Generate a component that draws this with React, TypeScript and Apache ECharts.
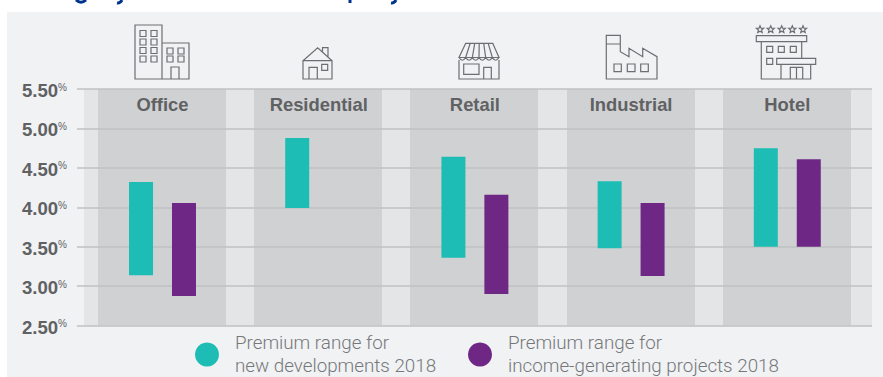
import React, { useEffect, useRef } from "react";
import * as echarts from "echarts";

const categories = ["Office", "Residential", "Retail", "Industrial", "Hotel"];
const newDevLow = [3.14, 3.99, 3.36, 3.48, 3.5];
const newDevHigh = [4.32, 4.88, 4.64, 4.33, 4.75];
const incomeLow: (number | null)[] = [2.875, null, 2.9, 3.13, 3.5];
const incomeHigh: (number | null)[] = [4.055, null, 4.16, 4.055, 4.61];
const newDevName = "Premium range for\nnew developments 2018";
const incomeName = "Premium range for\nincome-generating projects 2018";

const TEAL = "#1dbdb5";
const PURPLE = "#6e2785";
const BAND = "#d0d1d3";
const LIGHT = "#e4e5e7";
const LINE = "#c0c1c3";
const LABEL = "#606163";
const LEGEND_TEXT = "#75777a";
const ICON = "#6d6e71";

const rect = (x0: number, y0: number, x1: number, y1: number) =>
  `M${x0} ${y0}L${x1} ${y0}L${x1} ${y1}L${x0} ${y1}Z`;

const star = (cx: number, cy: number, r: number) => {
  let d = "";
  for (let i = 0; i < 10; i++) {
    const rad = i % 2 === 0 ? r : r * 0.45;
    const a = -Math.PI / 2 + (i * Math.PI) / 5;
    d += `${i === 0 ? "M" : "L"}${(cx + rad * Math.cos(a)).toFixed(2)} ${(cy + rad * Math.sin(a)).toFixed(2)}`;
  }
  return d + "Z";
};

const grid2 = (xs: number[], ys: number[], w: number, h: number) =>
  ys.map((y) => xs.map((x) => rect(x, y, x + w, y + h)).join("")).join("");

const officeIcon =
  rect(135, 25, 162, 79) +
  rect(162, 43, 189, 79) +
  grid2([140, 151], [30.5, 39, 47.5, 56], 6, 6) +
  grid2([167, 178], [48, 56], 6, 6) +
  rect(171, 67, 179, 79);

const houseIcon =
  rect(303, 60.7, 332, 79) +
  "M303 60.7L317.7 47.7L332 60.7" +
  "M322.5 52L322.5 47.7L328 47.7L328 56.7" +
  rect(309, 67.3, 317.3, 79) +
  rect(321.7, 64.3, 327.7, 70.3);

const scallops = [459, 465.7, 472.3, 479, 485.7, 492.3]
  .map((x) => `M${x} 57.5Q${x + 3.3} 63 ${x + 6.7} 57.5`)
  .join("");
const ribs = [0, 1, 2, 3, 4, 5, 6]
  .map((i) => `M${465.7 + i * 4.5} 43.3L${459 + i * 6.67} 57.5`)
  .join("");
const retailIcon =
  "M459 60L459 79L499 79L499 60" +
  "M465.7 43.3L492.7 43.3L499 57.5L459 57.5Z" +
  ribs +
  scallops +
  rect(463.7, 64, 479, 74.3) +
  rect(483.7, 67.3, 491.3, 79);

const factoryIcon =
  "M606.3 35.3L620.3 35.3L620.3 51.7L629 56.7L629 48.3L642.7 56.7L642.7 48.3L657 56.7L657 79L606.3 79Z" +
  "M606.3 44L620.3 44" +
  rect(614, 64, 621.3, 71.7) +
  rect(627.3, 64, 635, 71.7) +
  rect(640.7, 64, 648.3, 71.7);

const hotelIcon =
  [760, 770.7, 781.7, 792.3, 803].map((x) => star(x, 29.5, 3.8)).join("") +
  rect(756.3, 35.7, 806.7, 41.7) +
  "M761.3 41.7L761.3 79L810.7 79L810.7 64.3" +
  "M801.7 41.7L801.7 58.3" +
  grid2([766.7, 778.3, 790.3], [46.3], 6, 6) +
  rect(766.7, 58.3, 772.7, 64.3) +
  rect(776.7, 58.3, 815.7, 64.3) +
  "M781 64.3L781 79" +
  rect(790.3, 67.3, 802.7, 79) +
  "M796.5 67.3L796.5 79";

const titleMarks = "M76 0Q81 4.5 86 0M122 0Q120 3.5 117 3M350 0L350 3M396 0Q394 3.5 391 3";

const shapes: Record<string, string> = {
  iconOffice: officeIcon,
  iconHouse: houseIcon,
  iconRetail: retailIcon,
  iconFactory: factoryIcon,
  iconHotel: hotelIcon,
  titleMarks,
};
Object.keys(shapes).forEach((k) => {
  echarts.graphic.registerShape(k, (echarts.graphic as any).extendPath(shapes[k], {}));
});

const diff = (hi: (number | null)[], lo: (number | null)[]) =>
  hi.map((v, i) => (v == null || lo[i] == null ? null : +(v - (lo[i] as number)).toFixed(3)));

export default function App() {
  const ref = useRef<HTMLDivElement>(null);
  useEffect(() => {
    const chart = echarts.init(ref.current!, undefined, { renderer: "svg" });
    const barBase = { type: "bar", xAxisIndex: 1, yAxisIndex: 1, barWidth: 24, barGap: "79%", z: 2, silent: true };
    const legendText = { fontFamily: "Roboto", fontWeight: 300, fontSize: 18.8, lineHeight: 22.5, color: LEGEND_TEXT, padding: [0, 0, 0, 11] };
    const option: any = {
      animation: false,
      grid: [
        { left: 84, top: 89, width: 788, height: 236.6, show: true, backgroundColor: LIGHT, borderWidth: 0, z: -2 },
        { left: 84.4, top: 89, width: 781, height: 236.6 },
      ],
      xAxis: [
        { type: "category", gridIndex: 0, data: categories, show: false },
        {
          type: "category",
          gridIndex: 1,
          position: "top",
          data: categories,
          axisLine: { show: false },
          axisTick: { show: false },
          splitLine: { show: false },
          axisLabel: {
            inside: true,
            interval: 0,
            margin: 6,
            color: LABEL,
            fontFamily: "Liberation Sans",
            fontWeight: "bold",
            fontSize: 18.4,
          },
          z: 3,
        },
      ],
      yAxis: [
        {
          type: "value",
          gridIndex: 0,
          min: 2.5,
          max: 5.5,
          interval: 0.5,
          axisLine: { show: false },
          axisTick: { show: true, length: 7, lineStyle: { color: LINE, width: 1.5 } },
          splitLine: { show: true, lineStyle: { color: LINE, width: 1.5 } },
          axisLabel: {
            margin: 17,
            formatter: (v: number) => `{v|${v.toFixed(2)}}{p|%}`,
            rich: {
              v: { fontFamily: "Liberation Sans", fontWeight: "bold", fontSize: 18.6, color: LABEL, padding: [3, 0, 0, 0] },
              p: { fontFamily: "Liberation Sans", fontSize: 10, color: LABEL, verticalAlign: "top", padding: [4, 0, 0, 0] },
            },
          },
        },
        { type: "value", gridIndex: 1, min: 2.5, max: 5.5, interval: 0.5, show: false, splitLine: { show: false } },
      ],
      legend: [
        {
          data: [{ name: newDevName, icon: "circle" }],
          left: 195,
          top: 332,
          selectedMode: false,
          itemWidth: 24,
          itemHeight: 24,
          padding: 0,
          textStyle: legendText,
        },
        {
          data: [{ name: incomeName, icon: "circle" }],
          left: 468,
          top: 332,
          selectedMode: false,
          itemWidth: 24,
          itemHeight: 24,
          padding: 0,
          textStyle: legendText,
        },
      ],
      series: [
        {
          type: "custom",
          name: "bands",
          xAxisIndex: 1,
          yAxisIndex: 1,
          z: -1,
          silent: true,
          data: categories.map((_, i) => [i]),
          renderItem: (_: any, api: any) => {
            const c = api.coord([api.value(0), 5.5]);
            const b = api.coord([api.value(0), 2.5]);
            return {
              type: "rect",
              shape: { x: Math.floor(c[0] - 64), y: c[1], width: 128, height: b[1] - c[1] },
              style: { fill: BAND },
            };
          },
        },
        { ...barBase, name: "newBase", stack: "new", data: newDevLow, itemStyle: { color: "transparent" } },
        { ...barBase, name: newDevName, stack: "new", data: diff(newDevHigh, newDevLow), itemStyle: { color: TEAL } },
        { ...barBase, name: "incBase", stack: "inc", data: incomeLow, itemStyle: { color: "transparent" } },
        { ...barBase, name: incomeName, stack: "inc", data: diff(incomeHigh, incomeLow), itemStyle: { color: PURPLE } },
      ],
      graphic: [
        ...["iconOffice", "iconHouse", "iconRetail", "iconFactory", "iconHotel"].map((t) => ({
          type: t,
          x: 0,
          y: 0,
          silent: true,
          style: { fill: "none", stroke: ICON, lineWidth: 1.2 },
        })),
        { type: "titleMarks", x: 0, y: 0, silent: true, style: { fill: "none", stroke: "#00338d", lineWidth: 3 } },
      ],
    };
    chart.setOption(option);
    return () => chart.dispose();
  }, []);
  return (
    <div style={{ position: "fixed", left: 0, top: 0, width: 883, height: 377, background: "#fff", overflow: "hidden" }}>
      <div style={{ position: "absolute", left: 7, top: 12, width: 876, height: 365, background: "#f1f2f4" }} />
      <div ref={ref} style={{ position: "absolute", left: 0, top: 0, width: 883, height: 377 }} />
    </div>
  );
}
